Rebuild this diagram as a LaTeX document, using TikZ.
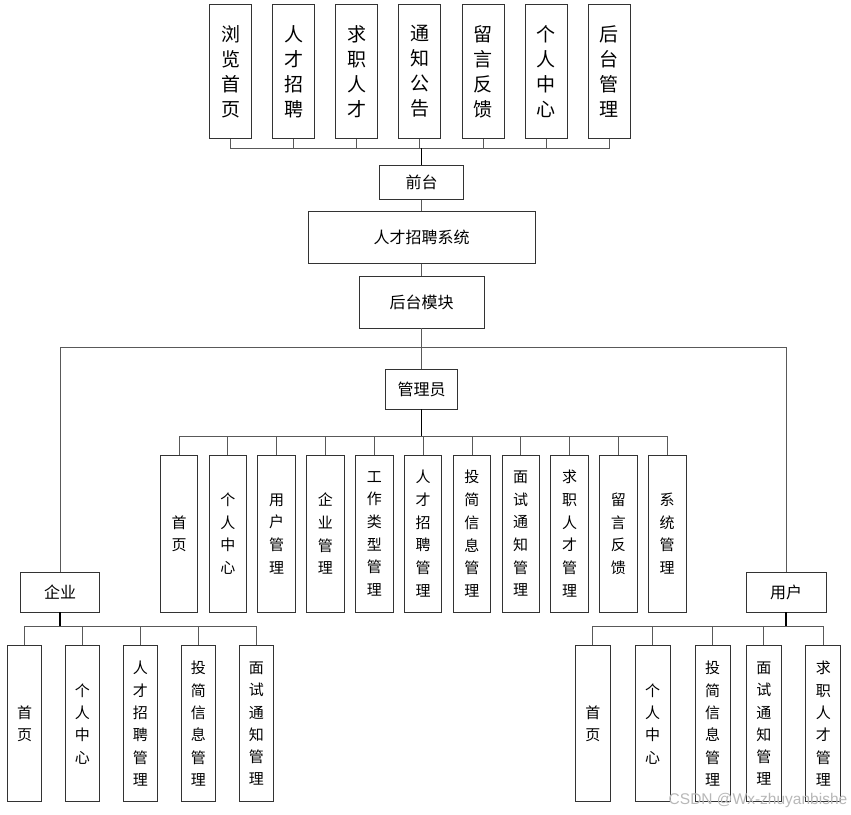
\documentclass[tikz,border=0pt]{standalone}
\usepackage{fontspec}
\newfontfamily\cjk{Noto Sans CJK SC}
\newfontfamily\wmfont{Liberation Sans}
\usetikzlibrary{calc}

\tikzset{
  box/.style={draw=black!80, line width=0.8pt, fill=white, inner sep=0pt, align=center},
  midbox/.style={box, font=\cjk\fontsize{16}{16}\selectfont},
  topbox/.style={box, minimum width=42pt, minimum height=134pt, font=\cjk\fontsize{19}{25}\selectfont},
  adminbox/.style={box, minimum width=37.5pt, minimum height=156.7pt, font=\cjk\fontsize{15}{22.7}\selectfont},
  subbox/.style={box, minimum width=35pt, minimum height=156pt, font=\cjk\fontsize{15}{22.3}\selectfont},
  conn/.style={draw=black!65, line width=0.8pt},
  trunk/.style={draw=black, line width=1.1pt}
}

\begin{document}
\begin{tikzpicture}[x=1pt, y=-1pt]
  \useasboundingbox (0,0) rectangle (851,814);
  % 1. 前台功能 (top row)
  \foreach \txt [count=\i] in {浏\\览\\首\\页, 人\\才\\招\\聘, 求\\职\\人\\才, 通\\知\\公\\告,
                               留\\言\\反\\馈, 个\\人\\中\\心, 后\\台\\管\\理}
    \node[topbox] (t\i) at ({230.5+63.1*(\i-1)}, 71.5) {\txt};

  % 2. 系统主干
  \node[midbox, minimum width=84pt, minimum height=34pt] (qt) at (421.5,182.5) {前台};
  \node[midbox, minimum width=227pt, minimum height=52pt] (xt) at (421.5,237.5) {人才招聘系统};
  \node[midbox, minimum width=125pt, minimum height=52pt] (hm) at (421.5,302) {后台模块};
  \node[midbox, minimum width=72pt, minimum height=40pt] (gly) at (421.5,389) {管理员};
  \node[midbox, minimum width=79.5pt, minimum height=40pt] (qy) at (60,592) {企业};
  \node[midbox, minimum width=80pt, minimum height=40pt] (yh) at (786,592) {用户};

  % 3. 管理员功能
  \foreach \txt [count=\i] in {首\\页, 个\\人\\中\\心, 用\\户\\管\\理, 企\\业\\管\\理,
                               工\\作\\类\\型\\管\\理, 人\\才\\招\\聘\\管\\理, 投\\简\\信\\息\\管\\理,
                               面\\试\\通\\知\\管\\理, 求\\职\\人\\才\\管\\理, 留\\言\\反\\馈, 系\\统\\管\\理}
    \node[adminbox] (a\i) at ({179+48.82*(\i-1)}, 533.7) {\txt};

  % 4. 企业功能
  \foreach \txt [count=\i] in {首\\页, 个\\人\\中\\心, 人\\才\\招\\聘\\管\\理,
                               投\\简\\信\\息\\管\\理, 面\\试\\通\\知\\管\\理}
    \node[subbox, minimum width=34pt] (e\i) at ({24.5+57.95*(\i-1)}, 723.7) {\txt};

  % 5. 用户功能
  \foreach \xx/\txt [count=\i] in {592.8/首\\页, 652.7/个\\人\\中\\心, 712.5/投\\简\\信\\息\\管\\理,
                                   763.8/面\\试\\通\\知\\管\\理, 823.3/求\\职\\人\\才\\管\\理}
    \node[subbox] (u\i) at (\xx, 723.7) {\txt};

  % 6. 连线
  \coordinate (topbus) at (421.5,148);
  \coordinate (mainbus) at (421.5,347.3);
  \coordinate (adminbus) at (421.5,436);
  \coordinate (qybus) at (60,626);
  \coordinate (yhbus) at (786,626);

  \foreach \i in {1,...,7} \draw[conn] (t\i.south) |- (topbus);
  \draw[trunk] (topbus) -- (qt.north);
  \draw[conn] (qt) -- (xt);
  \draw[conn] (xt) -- (hm);
  \draw[conn] (hm) -- (gly);
  \draw[conn] (qy.north) |- (mainbus);
  \draw[conn] (yh.north) |- (mainbus);

  \foreach \i in {1,...,11} \draw[conn] (a\i.north) |- (adminbus);
  \draw[trunk] (gly.south) -- (adminbus);
  \foreach \i in {1,...,5} \draw[conn] (e\i.north) |- (qybus);
  \draw[trunk] (qy.south) -- (qybus);
  \foreach \i in {1,...,5} \draw[conn] (u\i.north) |- (yhbus);
  \draw[trunk] (yh.south) -- (yhbus);

  % 7. watermark
  \node[font=\wmfont\fontsize{15.5}{15.5}\selectfont, text=black!28, inner sep=0pt] (wm) at (758,800) {CSDN @Wx-zhuyanbishe};
\end{tikzpicture}
\end{document}
